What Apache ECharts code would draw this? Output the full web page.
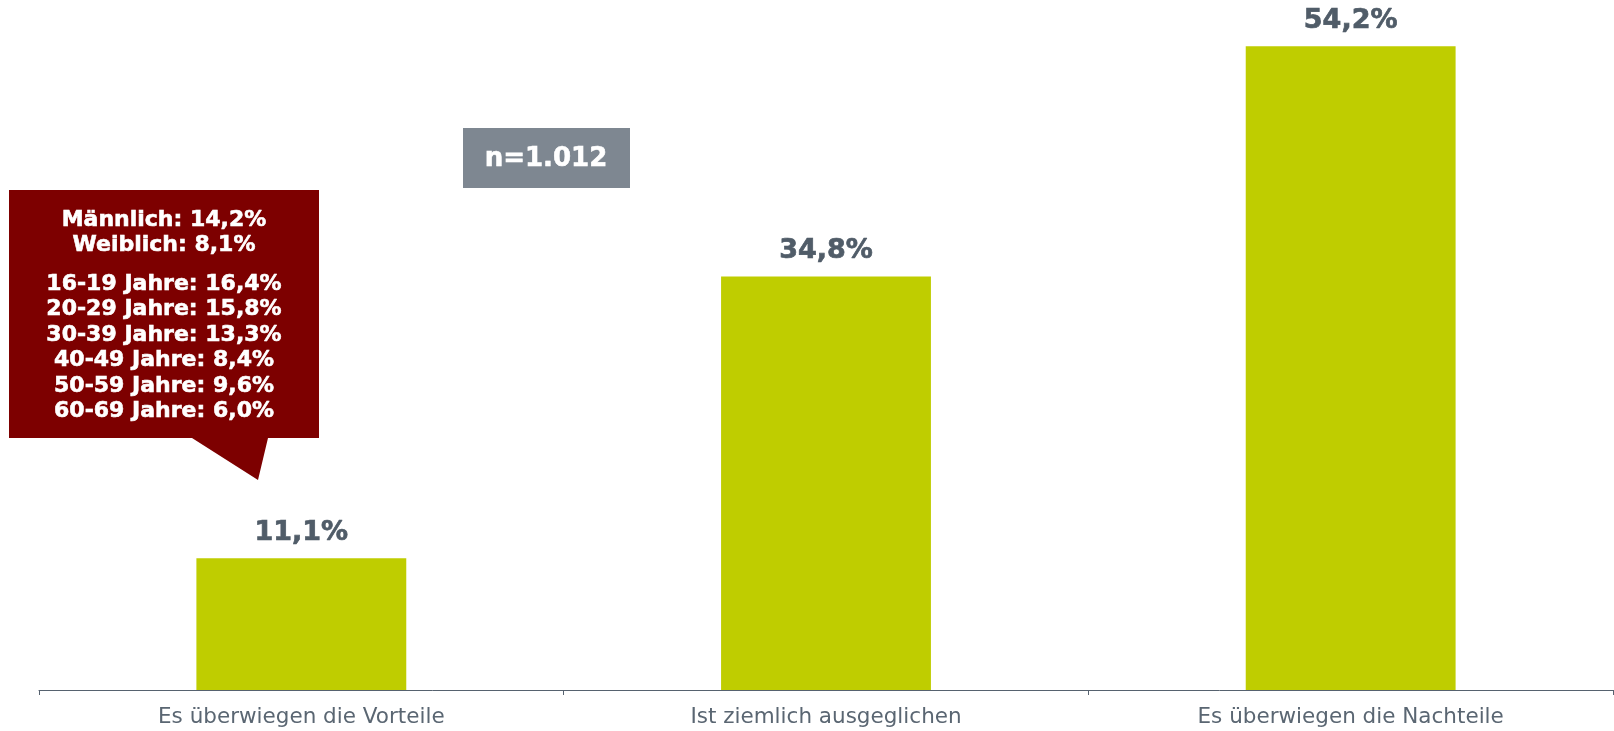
<!DOCTYPE html>
<html>
<head>
<meta charset="utf-8">
<style>
  html, body { margin: 0; padding: 0; background: #fff; }
  #chart { width: 1614px; height: 731px; }
</style>
<script src="https://cdn.jsdelivr.net/npm/echarts@6/dist/echarts.min.js"></script>
</head>
<body>
<div id="chart"></div>
<script>
// Survey answers and share of respondents (%)
const categories = ['Es überwiegen die Vorteile', 'Ist ziemlich ausgeglichen', 'Es überwiegen die Nachteile'];
const shares = [11.1, 34.8, 54.2];

// Breakdown for "Es überwiegen die Vorteile"
const genderLines = ['Männlich: 14,2%', 'Weiblich: 8,1%'];
const ageLines = [
  '16-19 Jahre: 16,4%',
  '20-29 Jahre: 15,8%',
  '30-39 Jahre: 13,3%',
  '40-49 Jahre: 8,4%',
  '50-59 Jahre: 9,6%',
  '60-69 Jahre: 6,0%'
];
const sampleSize = 'n=1.012';

const FONT = '"DejaVu Sans", Verdana, sans-serif';
const fmt = v => v.toFixed(1).replace('.', ',') + '%';

const chart = echarts.init(document.getElementById('chart'), null, { renderer: 'canvas' });

// Callout text lines: gender block, a gap, then the age block
const calloutTexts = [];
const lineH = 25.5;
genderLines.forEach((t, i) => calloutTexts.push({ t, y: 220 + i * lineH }));
ageLines.forEach((t, i) => calloutTexts.push({ t, y: 284 + i * lineH }));

const graphic = [
  {
    type: 'polygon',
    shape: {
      points: [[9, 190], [319, 190], [319, 438], [268, 438], [258, 480], [192, 438], [9, 438]]
    },
    style: { fill: '#7d0000' },
    z: 10
  },
  ...calloutTexts.map(o => ({
    type: 'text',
    x: 164,
    y: o.y,
    style: {
      text: o.t,
      fill: '#ffffff',
      stroke: '#ffffff',
      lineWidth: 0.6,
      font: 'bold 22px ' + FONT,
      textAlign: 'center',
      textVerticalAlign: 'middle'
    },
    z: 11
  })),
  {
    type: 'rect',
    shape: { x: 463, y: 128, width: 167, height: 60 },
    style: { fill: '#7e8791' },
    z: 10
  },
  {
    type: 'text',
    x: 546,
    y: 159,
    style: {
      text: sampleSize,
      fill: '#ffffff',
      stroke: '#ffffff',
      lineWidth: 0.6,
      font: 'bold 26px ' + FONT,
      textAlign: 'center',
      textVerticalAlign: 'middle'
    },
    z: 11
  }
];

chart.setOption({
  animation: false,
  backgroundColor: '#ffffff',
  grid: { left: 39, right: 1, top: 1, bottom: 41, containLabel: false },
  xAxis: {
    type: 'category',
    data: categories,
    axisLine: { show: true, lineStyle: { color: '#56626f', width: 1 } },
    axisTick: { show: true, length: 5, lineStyle: { color: '#56626f' } },
    axisLabel: {
      color: '#5a6672',
      fontFamily: FONT,
      fontSize: 21.5,
      margin: 16
    }
  },
  yAxis: {
    type: 'value',
    min: 0,
    max: 58,
    show: false,
    splitLine: { show: false }
  },
  series: [{
    type: 'bar',
    data: shares,
    barWidth: '40%',
    itemStyle: { color: '#bfcd00' },
    label: {
      show: true,
      position: 'top',
      distance: 12,
      formatter: p => fmt(p.value),
      color: '#505c68',
      textBorderColor: '#505c68',
      textBorderWidth: 0.7,
      fontFamily: FONT,
      fontWeight: 'bold',
      fontSize: 27
    }
  }],
  graphic
});
</script>
</body>
</html>
